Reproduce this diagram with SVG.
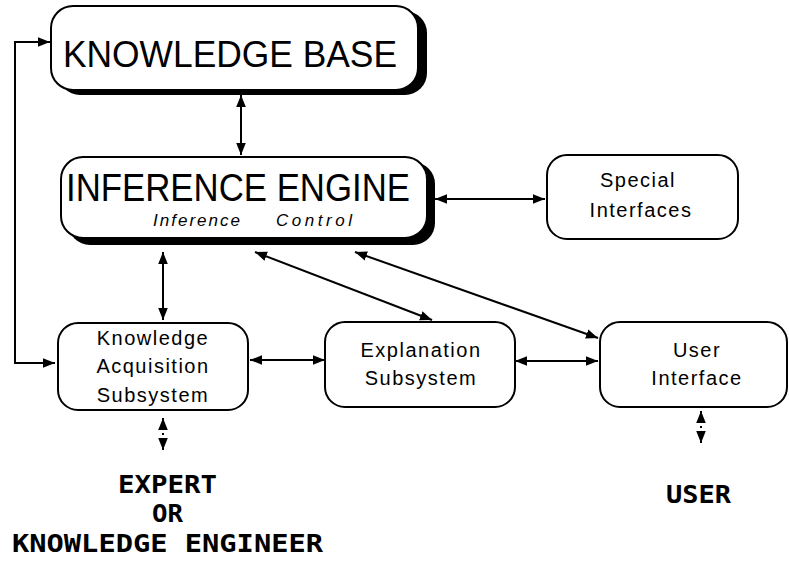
<svg xmlns="http://www.w3.org/2000/svg" width="789" height="563" viewBox="0 0 789 563">
<style>
.box{fill:#fff;stroke:#000;stroke-width:2}
.shadow{fill:#000}
.t{font-family:"Liberation Sans",Arial,sans-serif;fill:#000;text-anchor:middle}
.big{font-size:36px}
.small{font-size:20px;letter-spacing:1.5px}
.ital{font-family:"Liberation Sans",Arial,sans-serif;fill:#000;font-size:17px;font-style:italic}
.mono{font-family:"DejaVu Sans Mono","Liberation Mono",monospace;font-weight:bold;font-size:24px;fill:#000}
.c{fill:none;stroke:#000;stroke-width:2}
.d{fill:none;stroke:#000;stroke-width:2;stroke-dasharray:2 3}
</style>
<defs>
<marker id="ah" viewBox="0 0 10 8" refX="10" refY="4" markerWidth="12" markerHeight="10" markerUnits="userSpaceOnUse" orient="auto-start-reverse">
<path d="M0,0 L10,4 L0,8 z" fill="#000"/>
</marker>
</defs>

<g id="knowledge-base">
<rect class="shadow" x="58" y="11" width="369" height="84" rx="22"/>
<rect class="box" x="51" y="6" width="367" height="84" rx="22"/>
<text class="t big" x="230" y="67" textLength="334" lengthAdjust="spacingAndGlyphs">KNOWLEDGE BASE</text>
</g>

<g id="inference-engine">
<rect class="shadow" x="68" y="162" width="367" height="83" rx="22"/>
<rect class="box" x="61" y="157" width="366" height="81" rx="22"/>
<text class="t" x="238" y="201" font-size="39" textLength="344" lengthAdjust="spacingAndGlyphs">INFERENCE ENGINE</text>
<text class="ital" x="153" y="226" textLength="87" lengthAdjust="spacing">Inference</text>
<text class="ital" x="276" y="226" textLength="76" lengthAdjust="spacing">Control</text>
</g>

<g id="special-interfaces">
<rect class="box" x="547" y="155" width="191" height="84" rx="20"/>
<text class="t small" x="638" y="187">Special</text>
<text class="t small" x="641" y="217">Interfaces</text>
</g>

<g id="knowledge-acquisition">
<rect class="box" x="58" y="323" width="190" height="87" rx="20"/>
<text class="t small" x="153" y="345">Knowledge</text>
<text class="t small" x="153" y="373">Acquisition</text>
<text class="t small" x="153" y="402">Subsystem</text>
</g>

<g id="explanation">
<rect class="box" x="325" y="322" width="190" height="85" rx="20"/>
<text class="t small" x="421" y="357">Explanation</text>
<text class="t small" x="421" y="385">Subsystem</text>
</g>

<g id="user-interface">
<rect class="box" x="600" y="322" width="187" height="85" rx="20"/>
<text class="t small" x="697" y="357">User</text>
<text class="t small" x="697" y="385">Interface</text>
</g>

<g id="expert-label">
<text class="mono" x="118" y="493" textLength="99" lengthAdjust="spacingAndGlyphs">EXPERT</text>
<text class="mono" x="152" y="522" textLength="31" lengthAdjust="spacingAndGlyphs">OR</text>
<text class="mono" x="12" y="552" textLength="311" lengthAdjust="spacingAndGlyphs">KNOWLEDGE ENGINEER</text>
</g>

<g id="user-label">
<text class="mono" x="666" y="503" textLength="65" lengthAdjust="spacingAndGlyphs">USER</text>
</g>

<g id="connectors">
<line class="c" x1="241" y1="95" x2="241" y2="155" marker-start="url(#ah)" marker-end="url(#ah)"/>
<line class="c" x1="435" y1="199" x2="545" y2="199" marker-start="url(#ah)" marker-end="url(#ah)"/>
<line class="c" x1="163" y1="252" x2="163" y2="320" marker-start="url(#ah)" marker-end="url(#ah)"/>
<line class="c" x1="255" y1="252" x2="432" y2="320" marker-start="url(#ah)" marker-end="url(#ah)"/>
<line class="c" x1="355" y1="252" x2="598" y2="338" marker-start="url(#ah)" marker-end="url(#ah)"/>
<line class="c" x1="250" y1="360" x2="325" y2="360" marker-start="url(#ah)" marker-end="url(#ah)"/>
<line class="c" x1="515" y1="361" x2="598" y2="361" marker-start="url(#ah)" marker-end="url(#ah)"/>
<polyline class="c" points="55,363 15,363 15,42 50,42" marker-start="url(#ah)" marker-end="url(#ah)"/>
<line class="d" x1="163" y1="418" x2="163" y2="450" marker-start="url(#ah)" marker-end="url(#ah)"/>
<line class="d" x1="701" y1="411" x2="701" y2="443" marker-start="url(#ah)" marker-end="url(#ah)"/>
</g>
</svg>
